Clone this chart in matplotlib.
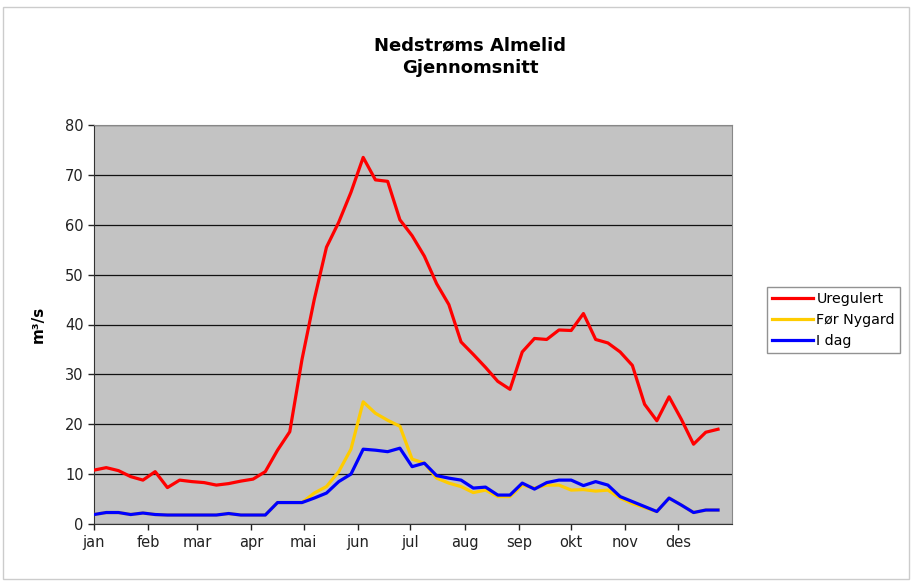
import numpy as np
import matplotlib.pyplot as plt
from matplotlib.patches import Rectangle

# weekly mean flow, week 0..51
weeks = np.arange(52)

uregulert = [10.8, 11.3, 10.7, 9.5, 8.8, 10.5, 7.3, 8.8, 8.5, 8.3,
             7.8, 8.1, 8.6, 9.0, 10.5, 14.8, 18.5, 33.0, 45.0, 55.5,
             60.5, 66.5, 73.5, 69.0, 68.7, 61.0, 57.8, 53.7, 48.2, 44.0,
             36.5, 34.0, 31.4, 28.6, 27.0, 34.5, 37.2, 37.0, 38.9, 38.8,
             42.2, 37.0, 36.3, 34.5, 31.8, 24.0, 20.7, 25.5, 21.0, 16.0,
             18.4, 19.0]

for_nygard = [1.9, 2.3, 2.3, 1.9, 2.2, 1.9, 1.8, 1.8, 1.8, 1.8,
              1.8, 2.1, 1.8, 1.8, 1.8, 4.3, 4.3, 4.3, 6.2, 7.5,
              10.5, 15.0, 24.5, 22.2, 20.8, 19.6, 13.0, 12.2, 9.2, 8.2,
              7.5, 6.3, 6.8, 5.5, 5.5, 7.8, 7.2, 7.8, 7.8, 6.8,
              6.9, 6.6, 6.8, 5.2, 4.1, 3.3, 2.5, 5.2, 3.8, 2.3,
              2.8, 2.8]

i_dag = [1.9, 2.3, 2.3, 1.9, 2.2, 1.9, 1.8, 1.8, 1.8, 1.8,
         1.8, 2.1, 1.8, 1.8, 1.8, 4.3, 4.3, 4.3, 5.2, 6.2,
         8.5, 10.0, 15.0, 14.8, 14.5, 15.2, 11.5, 12.2, 9.7, 9.2,
         8.8, 7.2, 7.4, 5.8, 5.8, 8.2, 7.0, 8.3, 8.8, 8.8,
         7.7, 8.5, 7.8, 5.5, 4.5, 3.5, 2.5, 5.2, 3.8, 2.3,
         2.8, 2.8]

months = ['jan', 'feb', 'mar', 'apr', 'mai', 'jun',
          'jul', 'aug', 'sep', 'okt', 'nov', 'des']
month_start_day = [0, 31, 59, 90, 120, 151, 181, 212, 243, 273, 304, 334]

fig = plt.figure(figsize=(9.12, 5.81), dpi=100)
ax = fig.add_axes([94 / 912, 1 - 524 / 581, (732 - 94) / 912, (524 - 125) / 581])
ax.set_facecolor('#c3c3c3')

ax.plot(weeks, uregulert, color='#ff0000', lw=2.3, label='Uregulert', zorder=4)
ax.plot(weeks, for_nygard, color='#ffcc00', lw=2.3, label='Før Nygard', zorder=3)
ax.plot(weeks, i_dag, color='#0000ff', lw=2.3, label='I dag', zorder=3.5)

ax.set_xlim(0, 365 / 7)
ax.set_ylim(0, 80)
ax.set_yticks(range(0, 81, 10))
ax.set_xticks([d / 7 for d in month_start_day])
ax.set_xticklabels(months)
ax.tick_params(axis='both', labelsize=10.5, colors='#222222', length=4,
               direction='out', width=1)
ax.tick_params(axis='x', pad=4)
ax.yaxis.grid(True, color='#111111', lw=0.9)
ax.set_axisbelow(True)
for side in ['left', 'bottom']:
    ax.spines[side].set_color('#333333')
for side in ['top', 'right']:
    ax.spines[side].set_color('#888888')

ax.set_ylabel('m³/s', fontsize=11, fontweight='bold', labelpad=14)

fig.text(470 / 912, 1 - 57 / 581, 'Nedstrøms Almelid\nGjennomsnitt',
         ha='center', va='center', fontsize=13, fontweight='bold',
         linespacing=1.3)

leg = fig.legend(loc='upper left', bbox_to_anchor=(767 / 912, 1 - 287 / 581),
                 fontsize=10.3, frameon=True, fancybox=False, handlelength=2.9,
                 handletextpad=0.2, borderpad=0.35, labelspacing=0.5,
                 borderaxespad=0)
leg.get_frame().set_edgecolor('#777777')
leg.get_frame().set_linewidth(1)

# chart border
fig.patches.append(Rectangle((0.003, 0.004), 0.994, 0.984, transform=fig.transFigure,
                             fill=False, edgecolor='#cccccc', lw=1))

fig.savefig('out.png', dpi=100)
